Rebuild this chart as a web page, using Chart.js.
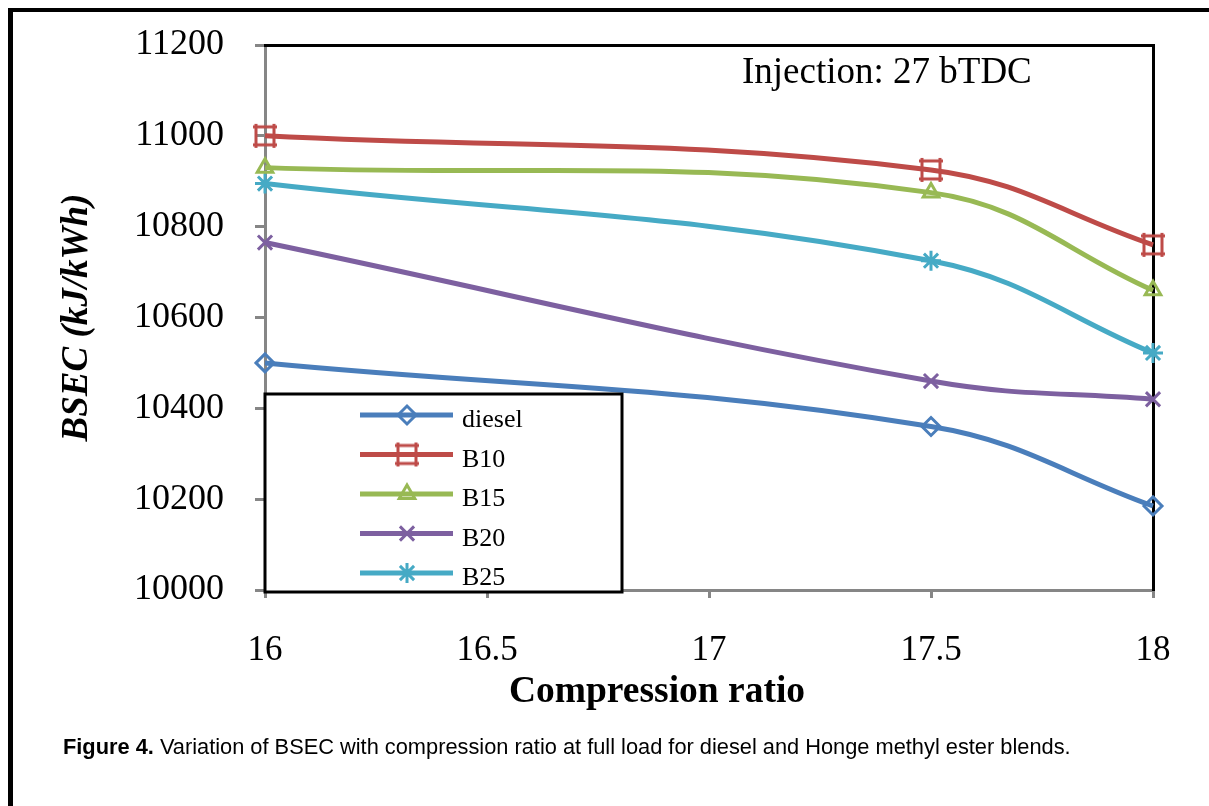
<!DOCTYPE html>
<html>
<head>
<meta charset="utf-8">
<script src="https://cdn.jsdelivr.net/npm/chart.js@4"></script>
<style>
html, body { margin: 0; padding: 0; background: #fff; }
#wrap { position: relative; width: 1209px; height: 806px; overflow: hidden; }
#frame { position: absolute; left: 8px; top: 8px; width: 1300px; height: 900px; border-left: 5px solid #000; border-top: 4px solid #000; }
#chart { position: absolute; left: 0; top: 0; }
.note { position: absolute; color: #000; white-space: nowrap; font-family: 'Liberation Serif', serif; }
#inj { left: 742px; top: 52px; font-size: 37px; line-height: 1; }
#xtitle { left: 657px; top: 671px; transform: translateX(-50%); font-size: 37.5px; font-weight: bold; line-height: 1; }
#caption { left: 63px; top: 734px; font-family: 'Liberation Sans', Arial, sans-serif; font-size: 21.8px; }
</style>
</head>
<body>
<div id="wrap">
    <div id="frame"></div>
    <canvas id="chart" width="1209" height="806"></canvas>
    <div class="note" id="inj">Injection: 27 bTDC</div>
    <div class="note" id="xtitle">Compression ratio</div>
    <div class="note" id="caption"><b>Figure 4.</b> Variation of BSEC with compression ratio at full load for diesel and Honge methyl ester blends.</div>
</div>
<script>
// ---------------- DATA ----------------
const ratios = [16, 17.5, 18];

const dieselBsec = [10500, 10360, 10185];
const b10Bsec = [11000, 10925, 10760];
const b15Bsec = [10930, 10875, 10660];
const b20Bsec = [10765, 10460, 10420];
const b25Bsec = [10895, 10725, 10522];

const seriesNames = ["diesel", "B10", "B15", "B20", "B25"];
const seriesColors = ["#4a7ebb", "#be4b48", "#98b954", "#7d60a0", "#46aac5"];

const xTicks = [16, 16.5, 17, 17.5, 18];
const yTicks = [10000, 10200, 10400, 10600, 10800, 11000, 11200];

const AXIS_GRAY = "#868686";
const SERIF = "'Liberation Serif', 'Times New Roman', serif";

// ---------------- MARKERS ----------------
// square with overshooting edges, like the Excel B10 marker
function hashSquare(color) {
    const c = document.createElement("canvas");
    c.width = 26;
    c.height = 26;
    const g = c.getContext("2d");
    g.strokeStyle = color;
    g.lineWidth = 3;
    g.beginPath();
    g.moveTo(1, 4); g.lineTo(25, 4);
    g.moveTo(1, 22); g.lineTo(25, 22);
    g.moveTo(4, 1); g.lineTo(4, 25);
    g.moveTo(22, 1); g.lineTo(22, 25);
    g.stroke();
    return c;
}

const pointStyles = ["rectRot", hashSquare(seriesColors[1]), "triangle", "crossRot", "star"];
const pointRadii = [9, 11, 9, 10, 10];

const allValues = [dieselBsec, b10Bsec, b15Bsec, b20Bsec, b25Bsec];

const datasets = seriesNames.map((name, i) => ({
    label: name,
    data: ratios.map((r, j) => ({ x: r, y: allValues[i][j] })),
    borderColor: seriesColors[i],
    borderWidth: 5,
    pointStyle: pointStyles[i],
    pointRadius: pointRadii[i],
    pointBorderWidth: 3,
    pointBorderColor: seriesColors[i],
    pointBackgroundColor: "rgba(0,0,0,0)",
    tension: 0.4,
    clip: false
}));

// ---------------- LEGEND (boxed, lower left) ----------------
const boxLegend = {
    id: "boxLegend",
    afterDatasetsDraw(chart) {
        const ctx = chart.ctx;
        const area = chart.chartArea;
        const left = area.left, top = 394, w = 357, h = 198;

        ctx.save();
        ctx.fillStyle = "#fff";
        ctx.fillRect(left, top, w, h);
        ctx.strokeStyle = "#000";
        ctx.lineWidth = 3;
        ctx.strokeRect(left, top, w, h);

        chart.data.datasets.forEach((ds, i) => {
            const y = top + 21 + i * 39.5;

            ctx.strokeStyle = ds.borderColor;
            ctx.lineWidth = 5;
            ctx.beginPath();
            ctx.moveTo(left + 95, y);
            ctx.lineTo(left + 188, y);
            ctx.stroke();

            ctx.lineWidth = 3;
            ctx.fillStyle = "rgba(0,0,0,0)";
            Chart.helpers.drawPoint(ctx, {
                pointStyle: ds.pointStyle,
                radius: ds.pointRadius,
                borderWidth: 3,
                rotation: 0
            }, left + 142, y);

            ctx.fillStyle = "#000";
            ctx.font = "26px " + SERIF;
            ctx.textAlign = "left";
            ctx.textBaseline = "alphabetic";
            ctx.fillText(ds.label, left + 197, y + 12);
        });
        ctx.restore();
    }
};

// ---------------- CHART ----------------
const chart = new Chart(document.getElementById("chart"), {
    type: "line",
    data: { datasets },
    plugins: [boxLegend],
    options: {
        responsive: false,
        animation: false,
        layout: {
            autoPadding: false,
            padding: { left: 55, top: 45, right: 56, bottom: 0 }
        },
        plugins: {
            legend: { display: false },
            tooltip: { enabled: false }
        },
        scales: {
            x: {
                type: "linear",
                position: "bottom",
                min: 16,
                max: 18,
                afterBuildTicks: (s) => { s.ticks = xTicks.map(v => ({ value: v })); },
                afterFit: (s) => { s.height = 216; s.paddingLeft = 0; s.paddingRight = 0; },
                ticks: {
                    color: "#000",
                    padding: 32,
                    maxRotation: 0,
                    font: { family: SERIF, size: 35 },
                    callback: (v) => String(v)
                },
                grid: {
                    drawOnChartArea: false,
                    tickLength: 8,
                    color: AXIS_GRAY,
                    lineWidth: 3
                },
                border: { color: AXIS_GRAY, width: 3 }
            },
            y: {
                type: "linear",
                position: "left",
                min: 10000,
                max: 11200,
                afterBuildTicks: (s) => { s.ticks = yTicks.map(v => ({ value: v })); },
                afterFit: (s) => { s.width = 210; s.paddingTop = 0; s.paddingBottom = 0; },
                ticks: {
                    color: "#000",
                    padding: 31,
                    font: { family: SERIF, size: 36 },
                    callback: (v) => String(v)
                },
                grid: {
                    drawOnChartArea: false,
                    tickLength: 10,
                    color: AXIS_GRAY,
                    lineWidth: 3
                },
                border: { color: AXIS_GRAY, width: 3 },
                title: {
                    display: true,
                    text: "BSEC (kJ/kWh)",
                    color: "#000",
                    padding: 0,
                    font: { family: SERIF, size: 37, weight: "bold", style: "italic" }
                }
            },
            x2: {
                type: "linear",
                position: "top",
                min: 16,
                max: 18,
                z: 1,
                afterFit: (s) => { s.height = 0; },
                ticks: { display: false },
                grid: { display: false, drawTicks: false },
                border: { color: "#000", width: 3 }
            },
            y2: {
                type: "linear",
                position: "right",
                min: 10000,
                max: 11200,
                z: 1,
                afterFit: (s) => { s.width = 0; },
                ticks: { display: false },
                grid: { display: false, drawTicks: false },
                border: { color: "#000", width: 3 }
            }
        }
    }
});
</script>
</body>
</html>
